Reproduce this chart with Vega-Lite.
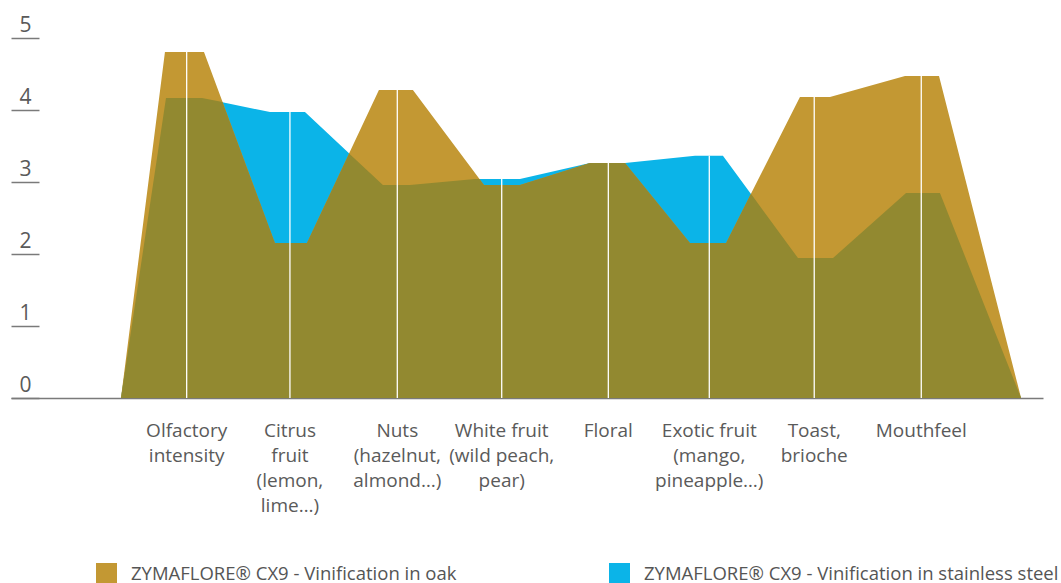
{
  "$schema": "https://vega.github.io/schema/vega-lite/v6.json",
  "width": 1032,
  "height": 360,
  "autosize": {"type": "none"},
  "padding": {"left": 11, "top": 38, "right": 18, "bottom": 185},
  "background": "white",
  "config": {"view": {"stroke": null}, "font": "Open Sans"},
  "datasets": {
    "profile": [
      {"series": "ZYMAFLORE® CX9 - Vinification in stainless steel", "pos": 0.374, "score": 0},
      {"series": "ZYMAFLORE® CX9 - Vinification in stainless steel", "pos": 0.803, "score": 4.167},
      {"series": "ZYMAFLORE® CX9 - Vinification in stainless steel", "pos": 1.146, "score": 4.167},
      {"series": "ZYMAFLORE® CX9 - Vinification in stainless steel", "pos": 1.794, "score": 3.972},
      {"series": "ZYMAFLORE® CX9 - Vinification in stainless steel", "pos": 2.127, "score": 3.972},
      {"series": "ZYMAFLORE® CX9 - Vinification in stainless steel", "pos": 2.870, "score": 2.958},
      {"series": "ZYMAFLORE® CX9 - Vinification in stainless steel", "pos": 3.128, "score": 2.958},
      {"series": "ZYMAFLORE® CX9 - Vinification in stainless steel", "pos": 3.747, "score": 3.042},
      {"series": "ZYMAFLORE® CX9 - Vinification in stainless steel", "pos": 4.176, "score": 3.042},
      {"series": "ZYMAFLORE® CX9 - Vinification in stainless steel", "pos": 4.843, "score": 3.264},
      {"series": "ZYMAFLORE® CX9 - Vinification in stainless steel", "pos": 5.177, "score": 3.264},
      {"series": "ZYMAFLORE® CX9 - Vinification in stainless steel", "pos": 5.844, "score": 3.365},
      {"series": "ZYMAFLORE® CX9 - Vinification in stainless steel", "pos": 6.110, "score": 3.365},
      {"series": "ZYMAFLORE® CX9 - Vinification in stainless steel", "pos": 6.825, "score": 1.944},
      {"series": "ZYMAFLORE® CX9 - Vinification in stainless steel", "pos": 7.159, "score": 1.944},
      {"series": "ZYMAFLORE® CX9 - Vinification in stainless steel", "pos": 7.855, "score": 2.847},
      {"series": "ZYMAFLORE® CX9 - Vinification in stainless steel", "pos": 8.178, "score": 2.847},
      {"series": "ZYMAFLORE® CX9 - Vinification in stainless steel", "pos": 8.951, "score": 0},
      {"series": "ZYMAFLORE® CX9 - Vinification in oak", "pos": 0.374, "score": 0},
      {"series": "ZYMAFLORE® CX9 - Vinification in oak", "pos": 0.793, "score": 4.806},
      {"series": "ZYMAFLORE® CX9 - Vinification in oak", "pos": 1.165, "score": 4.806},
      {"series": "ZYMAFLORE® CX9 - Vinification in oak", "pos": 1.841, "score": 2.153},
      {"series": "ZYMAFLORE® CX9 - Vinification in oak", "pos": 2.146, "score": 2.153},
      {"series": "ZYMAFLORE® CX9 - Vinification in oak", "pos": 2.832, "score": 4.278},
      {"series": "ZYMAFLORE® CX9 - Vinification in oak", "pos": 3.156, "score": 4.278},
      {"series": "ZYMAFLORE® CX9 - Vinification in oak", "pos": 3.833, "score": 2.958},
      {"series": "ZYMAFLORE® CX9 - Vinification in oak", "pos": 4.176, "score": 2.958},
      {"series": "ZYMAFLORE® CX9 - Vinification in oak", "pos": 4.843, "score": 3.264},
      {"series": "ZYMAFLORE® CX9 - Vinification in oak", "pos": 5.177, "score": 3.264},
      {"series": "ZYMAFLORE® CX9 - Vinification in oak", "pos": 5.796, "score": 2.153},
      {"series": "ZYMAFLORE® CX9 - Vinification in oak", "pos": 6.140, "score": 2.153},
      {"series": "ZYMAFLORE® CX9 - Vinification in oak", "pos": 6.844, "score": 4.181},
      {"series": "ZYMAFLORE® CX9 - Vinification in oak", "pos": 7.130, "score": 4.181},
      {"series": "ZYMAFLORE® CX9 - Vinification in oak", "pos": 7.845, "score": 4.472},
      {"series": "ZYMAFLORE® CX9 - Vinification in oak", "pos": 8.169, "score": 4.472},
      {"series": "ZYMAFLORE® CX9 - Vinification in oak", "pos": 8.951, "score": 0},
      {"series": "overlap", "pos": 0.374, "score": 0},
      {"series": "overlap", "pos": 0.803, "score": 4.167},
      {"series": "overlap", "pos": 1.146, "score": 4.167},
      {"series": "overlap", "pos": 1.341, "score": 4.110},
      {"series": "overlap", "pos": 1.841, "score": 2.153},
      {"series": "overlap", "pos": 2.146, "score": 2.153},
      {"series": "overlap", "pos": 2.548, "score": 3.397},
      {"series": "overlap", "pos": 2.870, "score": 2.958},
      {"series": "overlap", "pos": 3.128, "score": 2.958},
      {"series": "overlap", "pos": 3.747, "score": 3.042},
      {"series": "overlap", "pos": 3.790, "score": 3.042},
      {"series": "overlap", "pos": 3.833, "score": 2.958},
      {"series": "overlap", "pos": 4.176, "score": 2.958},
      {"series": "overlap", "pos": 4.843, "score": 3.264},
      {"series": "overlap", "pos": 5.177, "score": 3.264},
      {"series": "overlap", "pos": 5.796, "score": 2.153},
      {"series": "overlap", "pos": 6.140, "score": 2.153},
      {"series": "overlap", "pos": 6.377, "score": 2.836},
      {"series": "overlap", "pos": 6.825, "score": 1.944},
      {"series": "overlap", "pos": 7.159, "score": 1.944},
      {"series": "overlap", "pos": 7.855, "score": 2.847},
      {"series": "overlap", "pos": 8.178, "score": 2.847},
      {"series": "overlap", "pos": 8.951, "score": 0}
    ],
    "attributes": [
      {"pos": 1.0, "base": 0, "top": 4.806, "label": "Olfactory\nintensity"},
      {"pos": 1.984, "base": 0, "top": 3.972, "label": "Citrus\nfruit\n(lemon,\nlime…)"},
      {"pos": 3.007, "base": 0, "top": 4.278, "label": "Nuts\n(hazelnut,\nalmond…)"},
      {"pos": 4.002, "base": 0, "top": 3.042, "label": "White fruit\n(wild peach,\npear)"},
      {"pos": 5.018, "base": 0, "top": 3.264, "label": "Floral"},
      {"pos": 5.98, "base": 0, "top": 3.365, "label": "Exotic fruit\n(mango,\npineapple…)"},
      {"pos": 6.98, "base": 0, "top": 4.181, "label": "Toast,\nbrioche"},
      {"pos": 8.0, "base": 0, "top": 4.472, "label": "Mouthfeel"}
    ]
  },
  "layer": [
    {
      "data": {"name": "profile"},
      "transform": [{"filter": "datum.series === 'ZYMAFLORE® CX9 - Vinification in stainless steel'"}],
      "mark": {"type": "area", "interpolate": "linear", "opacity": 1},
      "encoding": {
        "x": {"field": "pos", "type": "quantitative",
              "scale": {"domain": [-0.674, 9.16], "nice": false, "zero": false},
              "axis": {"domainColor": "#7a7a7a", "domainWidth": 1.5, "ticks": false, "labels": false, "grid": false, "title": null}},
        "y": {"field": "score", "type": "quantitative", "stack": null,
              "scale": {"domain": [0, 5], "nice": false},
              "axis": {"values": [0, 1, 2, 3, 4, 5], "format": "d", "domain": false, "grid": false, "tickSize": 28, "tickColor": "#7a7a7a", "tickWidth": 1.5, "offset": -28, "labelAlign": "center", "labelPadding": -14, "labelBaseline": "alphabetic", "labelOffset": -7, "labelFontSize": 21, "labelColor": "#5a5a5a", "labelFont": "Open Sans", "title": null}},
        "color": {"field": "series", "type": "nominal",
                  "scale": {"domain": ["ZYMAFLORE® CX9 - Vinification in oak", "ZYMAFLORE® CX9 - Vinification in stainless steel"], "range": ["#C39833", "#0BB4E8"]},
                  "legend": {"orient": "none", "legendX": 85, "legendY": 525, "direction": "horizontal", "title": null, "symbolType": "square", "symbolSize": 441, "symbolStrokeWidth": 0, "symbolOpacity": 1, "labelFontSize": 18.5, "labelFont": "Open Sans", "labelColor": "#555555", "labelOffset": 14, "columnPadding": 152, "padding": 0, "labelLimit": 800}}
      }
    },
    {
      "data": {"name": "profile"},
      "transform": [{"filter": "datum.series === 'ZYMAFLORE® CX9 - Vinification in oak'"}],
      "mark": {"type": "area", "interpolate": "linear", "opacity": 1},
      "encoding": {
        "x": {"field": "pos", "type": "quantitative"},
        "y": {"field": "score", "type": "quantitative", "stack": null},
        "color": {"field": "series", "type": "nominal"}
      }
    },
    {
      "data": {"name": "profile"},
      "transform": [{"filter": "datum.series === 'overlap'"}],
      "mark": {"type": "area", "interpolate": "linear", "color": "#928930", "opacity": 1},
      "encoding": {
        "x": {"field": "pos", "type": "quantitative"},
        "y": {"field": "score", "type": "quantitative", "stack": null}
      }
    },
    {
      "data": {"name": "attributes"},
      "mark": {"type": "rule", "color": "white", "strokeWidth": 1.3},
      "encoding": {
        "x": {"field": "pos", "type": "quantitative"},
        "y": {"field": "base", "type": "quantitative"},
        "y2": {"field": "top"}
      }
    },
    {
      "data": {"name": "attributes"},
      "mark": {"type": "text", "align": "center", "baseline": "alphabetic", "dy": 39, "fontSize": 19, "lineHeight": 25, "lineBreak": "\n", "color": "#5a5a5a", "font": "Open Sans"},
      "encoding": {
        "x": {"field": "pos", "type": "quantitative"},
        "y": {"field": "base", "type": "quantitative"},
        "text": {"field": "label"}
      }
    }
  ]
}
